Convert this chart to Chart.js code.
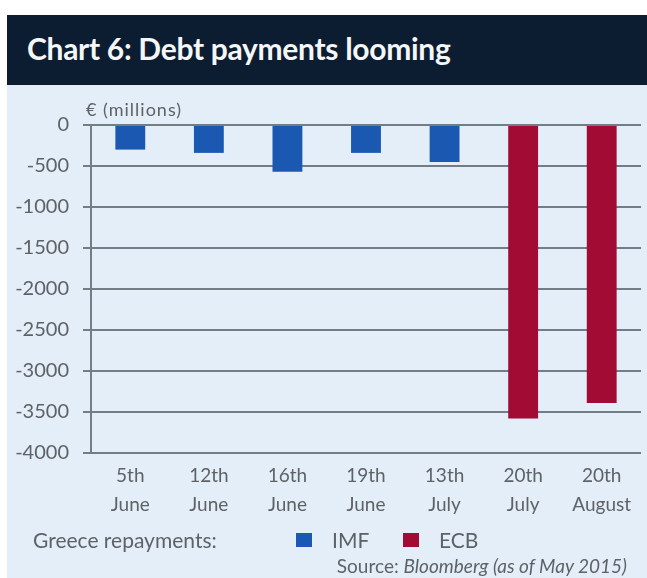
<!DOCTYPE html>
<html>
<head>
<meta charset="utf-8">
<script src="https://cdn.jsdelivr.net/npm/chart.js@4/dist/chart.umd.min.js"></script>
<style>
  body { margin: 0; width: 647px; height: 578px; background: #fff; position: relative; overflow: hidden; font-family: Lato, "Open Sans", sans-serif; }
  #header { position: absolute; left: 7px; top: 15px; width: 640px; height: 70px; background: #0c1d31; }
  #header h1 { margin: 0; position: absolute; left: 20px; top: 0; line-height: 66px; font-size: 30px; font-weight: 700; color: #f4f6f8; letter-spacing: -0.3px; }
  #panel { position: absolute; left: 7px; top: 85px; width: 640px; height: 493px; background: #e3eef8; }
  #box { position: absolute; left: 0; top: 0; width: 640px; height: 445px; }
  #legend { position: absolute; left: 26px; top: 442px; height: 26px; font-size: 21px; color: #5e6266; white-space: nowrap; }
  #legend span { position: absolute; top: 0; line-height: 26px; }
  #legend i { position: absolute; top: 6px; width: 16px; height: 14px; }
  #source { position: absolute; right: 20px; top: 469px; line-height: 24px; font-size: 19px; color: #5e6266; white-space: nowrap; }
</style>
</head>
<body>
<div id="header"><h1>Chart 6: Debt payments looming</h1></div>
<div id="panel">
  <div id="box"><canvas id="debtChart"></canvas></div>
  <div id="legend"></div>
  <div id="source">Source: <em>Bloomberg (as of May 2015)</em></div>
</div>
<script>
// repayment dates (two-line axis labels)
const dates = [
  ["5th", "June"],
  ["12th", "June"],
  ["16th", "June"],
  ["19th", "June"],
  ["13th", "July"],
  ["20th", "July"],
  ["20th", "August"],
];
// € millions, negative = payment out
const imfPayments = [-300, -340, -570, -340, -450, null, null];
const ecbPayments = [null, null, null, null, null, -3580, -3390];
const yTicks = [0, -500, -1000, -1500, -2000, -2500, -3000, -3500, -4000];

const textGray = "#5e6266";
const gridGray = "#737d84";

const series = [
  { label: "IMF", data: imfPayments, color: "#1a58b2" },
  { label: "ECB", data: ecbPayments, color: "#a20b34" },
];

// small unit label above the axis
const unitLabel = {
  id: "unitLabel",
  afterDraw(chart) {
    const ctx = chart.ctx;
    ctx.save();
    ctx.font = "18px Lato";
    ctx.fillStyle = textGray;
    ctx.textBaseline = "middle";
    ctx.letterSpacing = "1px";
    ctx.fillText("€ (millions)", chart.chartArea.left - 5, chart.chartArea.top - 15);
    ctx.restore();
  },
};

const config = {
  type: "bar",
  data: {
    labels: dates,
    datasets: series.map((s) => ({
      label: s.label,
      data: s.data,
      backgroundColor: s.color,
      barPercentage: 0.38,
      categoryPercentage: 1,
    })),
  },
  options: {
    responsive: true,
    maintainAspectRatio: false,
    animation: false,
    layout: { padding: { top: 40, right: 6, bottom: 0, left: 0 } },
    plugins: {
      legend: { display: false },
      title: { display: false },
      tooltip: { enabled: false },
    },
    scales: {
      x: {
        stacked: true,
        grid: { display: false, drawTicks: false },
        border: { display: false },
        ticks: {
          color: textGray,
          font: { family: "Lato", size: 19, lineHeight: 1.55 },
          padding: 8,
          maxRotation: 0,
          autoSkip: false,
        },
        afterFit(scale) {
          scale.height = 77;
        },
      },
      y: {
        min: -4000,
        max: 0,
        afterBuildTicks(scale) {
          scale.ticks = yTicks.map((v) => ({ value: v }));
        },
        grid: { color: gridGray, lineWidth: 2, tickLength: 8 },
        border: { display: true, color: gridGray, width: 2 },
        ticks: {
          color: textGray,
          font: { family: "Lato", size: 20 },
          padding: 14,
          callback: (v) => String(v),
        },
        afterFit(scale) {
          scale.width = 84;
        },
      },
    },
  },
  plugins: [unitLabel],
};

new Chart(document.querySelector("#debtChart").getContext("2d"), config);

// legend row built from the same series
const legend = document.querySelector("#legend");
legend.innerHTML = '<span style="left:0">Greece repayments:</span>';
const swatchX = [263, 370];
series.forEach((s, i) => {
  legend.innerHTML +=
    `<i style="left:${swatchX[i]}px;background:${s.color}"></i>` +
    `<span style="left:${swatchX[i] + 36}px">${s.label}</span>`;
});
</script>
</body>
</html>
